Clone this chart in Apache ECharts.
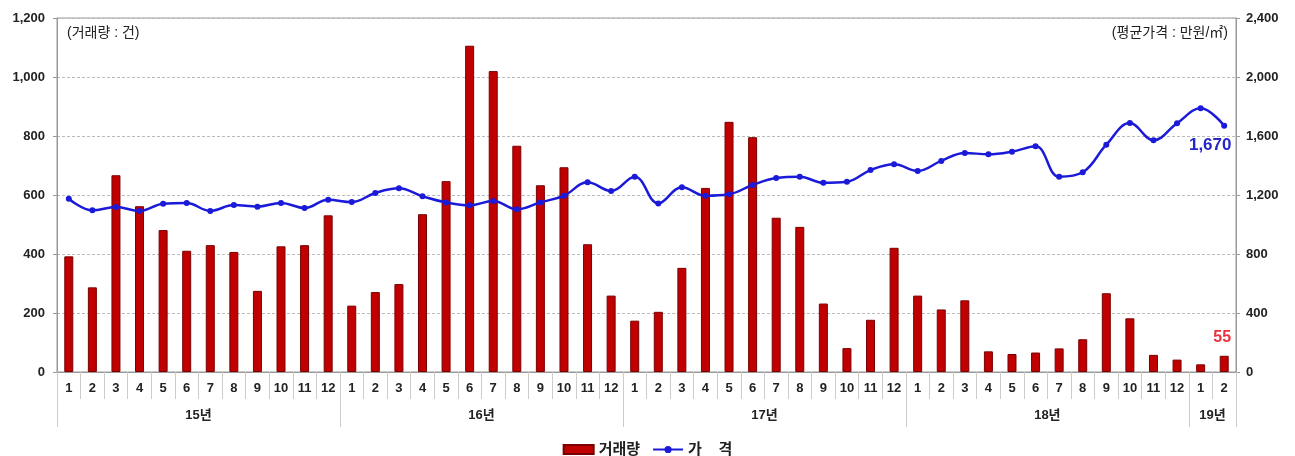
<!DOCTYPE html>
<html>
<head>
<meta charset="utf-8">
<script src="https://cdn.jsdelivr.net/npm/echarts@6/dist/echarts.min.js"></script>
<style>
  html, body { margin: 0; padding: 0; background: #fff; }
  #chart { width: 1295px; height: 456px; }
</style>
</head>
<body>
<div id="chart"></div>
<script>
// 월별 거래량 / 평균가격
const months = [
  '1','2','3','4','5','6','7','8','9','10','11','12',
  '1','2','3','4','5','6','7','8','9','10','11','12',
  '1','2','3','4','5','6','7','8','9','10','11','12',
  '1','2','3','4','5','6','7','8','9','10','11','12',
  '1','2'
];
const years = ['15년', '16년', '17년', '18년', '19년'];
const yearMonthCounts = [12, 12, 12, 12, 2];

const volume = [
  392, 287, 667, 562, 481, 411, 430, 407, 275, 426, 430, 531,
  225, 271, 298, 535, 647, 1106, 1020, 767, 633, 694, 433, 259,
  174, 204, 353, 624, 848, 796, 523, 492, 232, 81, 177, 421,
  259, 212, 243, 70, 61, 66, 80, 111, 267, 182, 58, 42,
  26, 55
];
const price = [
  1175, 1096, 1118, 1092, 1141, 1146, 1092, 1132, 1121, 1146, 1112, 1168,
  1152, 1214, 1245, 1191, 1150, 1130, 1159, 1103, 1150, 1195, 1286, 1227,
  1324, 1143, 1252, 1195, 1205, 1268, 1315, 1324, 1283, 1290, 1369, 1408,
  1363, 1431, 1485, 1476, 1494, 1530, 1324, 1354, 1541, 1688, 1571, 1686,
  1788, 1670
];

const font = '"Liberation Sans", "Noto Sans CJK KR", sans-serif';

// 연도 축: 월 경계(0..50) 위치에 라벨/눈금
const yearSlots = new Array(months.length + 1).fill('');
const yearBounds = [0];
let acc = 0;
years.forEach(function (y, i) {
  yearSlots[acc + yearMonthCounts[i] / 2] = y;
  acc += yearMonthCounts[i];
  yearBounds.push(acc);
});

const fmt = function (v) { return v.toLocaleString('en-US'); };

let myChart = echarts.init(document.getElementById('chart'));

myChart.setOption({
  animation: false,
  textStyle: { fontFamily: font },
  title: [
    {
      text: '(거래량 : 건)',
      left: 62, top: 21,
      textStyle: { fontSize: 14, fontWeight: 'normal', color: '#222', fontFamily: font }
    },
    {
      text: '(평균가격 : 만원/㎡)',
      right: 62, top: 21,
      textStyle: { fontSize: 14, fontWeight: 'normal', color: '#222', fontFamily: font }
    }
  ],
  legend: {
    bottom: -6,
    left: 'center',
    itemGap: 12,
    itemWidth: 30,
    itemHeight: 9,
    textStyle: { fontSize: 15, fontWeight: 'bold', color: '#222', fontFamily: font },
    data: [
      { name: '거래량', icon: 'rect' },
      { name: '가 격' }
    ],
    formatter: function (name) { return name === '가 격' ? '가    격' : name; }
  },
  grid: {
    left: 57, right: 59, top: 18, bottom: 84,
    show: true, borderColor: '#999', borderWidth: 1
  },
  xAxis: [
    {
      type: 'category',
      data: months,
      position: 'bottom',
      axisLine: { lineStyle: { color: '#999' } },
      axisTick: { show: true, length: 27, interval: 0, lineStyle: { color: '#ccc' } },
      axisLabel: { interval: 0, margin: 10, fontSize: 13, fontWeight: 'bold', color: '#222' }
    },
    {
      type: 'category',
      data: yearSlots,
      boundaryGap: false,
      position: 'bottom',
      axisLine: { show: false },
      axisTick: {
        show: true, length: 55,
        interval: function (i) { return yearBounds.indexOf(i) >= 0; },
        lineStyle: { color: '#ccc' }
      },
      axisLabel: { interval: 0, margin: 37, fontSize: 13, fontWeight: 'bold', color: '#222' }
    }
  ],
  yAxis: [
    {
      type: 'value',
      min: 0, max: 1200, interval: 200,
      axisLine: { show: true, lineStyle: { color: '#999' } },
      axisTick: { show: true, length: 4, lineStyle: { color: '#999' } },
      axisLabel: { formatter: fmt, fontSize: 13, fontWeight: 'bold', color: '#222', margin: 12 },
      splitLine: { lineStyle: { color: '#bbb', type: [3, 2] } }
    },
    {
      type: 'value',
      min: 0, max: 2400, interval: 400,
      axisLine: { show: true, lineStyle: { color: '#999' } },
      axisTick: { show: true, length: 4, lineStyle: { color: '#999' } },
      axisLabel: { formatter: fmt, fontSize: 13, fontWeight: 'bold', color: '#222', margin: 10 },
      splitLine: { show: false }
    }
  ],
  series: [
    {
      name: '거래량',
      type: 'bar',
      barWidth: 9,
      itemStyle: { color: '#C00000', borderColor: '#7a0000', borderWidth: 1 },
      data: volume.map(function (v, i) {
        if (i === volume.length - 1) {
          return {
            value: v,
            label: {
              show: true, position: 'top', distance: 10, offset: [-2, 0],
              fontSize: 16, fontWeight: 'bold', color: '#E8323C', fontFamily: font
            }
          };
        }
        return v;
      })
    },
    {
      name: '가 격',
      type: 'line',
      yAxisIndex: 1,
      smooth: 0.4,
      symbol: 'circle',
      symbolSize: 6,
      lineStyle: { width: 2.5, color: '#1a1ad8' },
      itemStyle: { color: '#1a1ad8' },
      data: price.map(function (v, i) {
        if (i === price.length - 1) {
          return {
            value: v,
            label: {
              show: true, position: 'bottom', distance: 8, offset: [-14, 0],
              formatter: function (p) { return fmt(p.value); },
              fontSize: 17, fontWeight: 'bold', color: '#2626C8', fontFamily: font
            }
          };
        }
        return v;
      })
    }
  ]
});

window.onresize = function () {
  myChart.resize();
};
</script>
</body>
</html>
